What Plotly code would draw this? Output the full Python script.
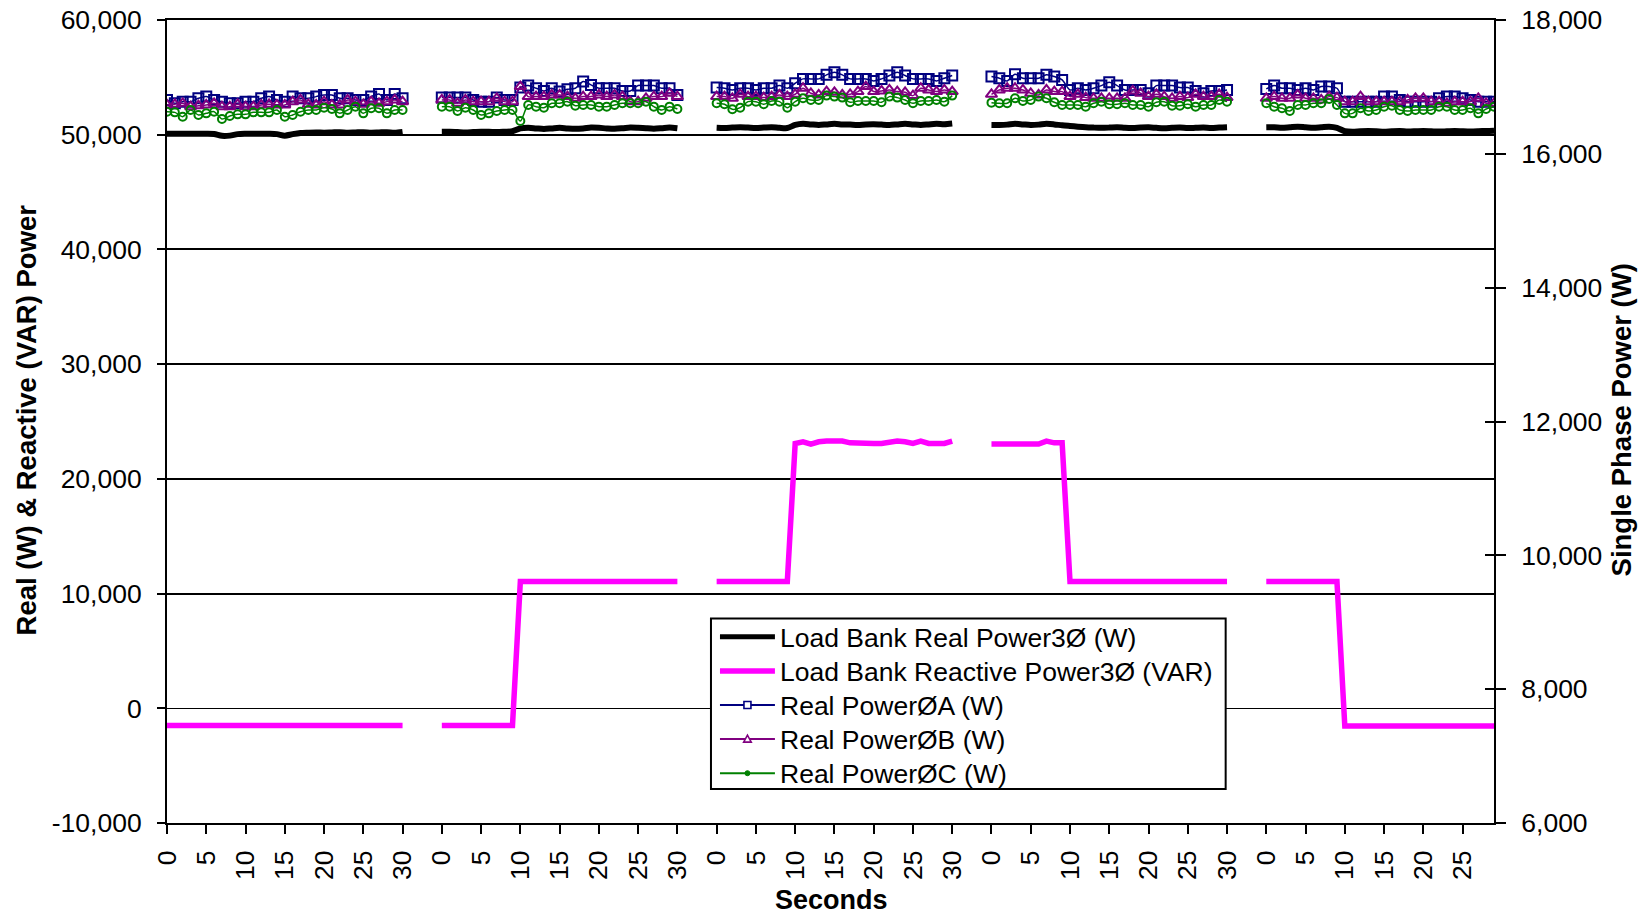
import plotly.graph_objects as go

# ---------------- data ----------------
run_tick_labels = [
    ["0", "5", "10", "15", "20", "25", "30"],
    ["0", "5", "10", "15", "20", "25", "30"],
    ["0", "5", "10", "15", "20", "25", "30"],
    ["0", "5", "10", "15", "20", "25", "30"],
    ["0", "5", "10", "15", "20", "25"],
]
left_tick_vals = [-10000, 0, 10000, 20000, 30000, 40000, 50000, 60000]
left_tick_text = ["-10,000", "0", "10,000", "20,000", "30,000", "40,000", "50,000", "60,000"]
right_tick_vals = [6000, 8000, 10000, 12000, 14000, 16000, 18000]
right_tick_text = ["6,000", "8,000", "10,000", "12,000", "14,000", "16,000", "18,000"]

series_names = [
    "Load Bank Real Power3Ø (W)",
    "Load Bank Reactive Power3Ø (VAR)",
    "Real PowerØA (W)",
    "Real PowerØB (W)",
    "Real PowerØC (W)",
]

# Load Bank Real Power 3-phase (W), left axis, one list per run
real3_runs = [
    [50080, 50080, 50080, 50080, 50080, 50080, 50060, 49900, 49920, 50050, 50080, 50080, 50080, 50080, 50050, 49920,
     50050, 50150, 50180, 50200, 50180, 50200, 50220, 50180, 50200, 50220, 50180, 50200, 50220, 50180, 50250],
    [50260, 50260, 50230, 50200, 50230, 50260, 50260, 50230, 50260, 50300, 50550, 50600, 50550, 50500, 50550, 50600,
     50550, 50520, 50550, 50620, 50600, 50550, 50520, 50560, 50620, 50600, 50560, 50530, 50570, 50620, 50560],
    [50600, 50580, 50620, 50660, 50620, 50580, 50620, 50660, 50600, 50580, 50850, 50950, 50900, 50850, 50900, 50950,
     50900, 50880, 50850, 50900, 50920, 50880, 50850, 50900, 50950, 50900, 50850, 50900, 50950, 50920, 50980],
    [50850, 50850, 50880, 50950, 50900, 50850, 50880, 50950, 50900, 50820, 50760, 50700, 50650, 50620, 50600, 50620,
     50650, 50600, 50580, 50620, 50640, 50600, 50570, 50600, 50620, 50580, 50600, 50620, 50580, 50620, 50650],
    [50650, 50650, 50600, 50650, 50700, 50650, 50600, 50650, 50700, 50600, 50300, 50250, 50300, 50330, 50300, 50250,
     50300, 50330, 50280, 50300, 50330, 50300, 50270, 50300, 50330, 50300, 50280, 50300, 50330, 50350],
]

# Load Bank Reactive Power 3-phase (VAR), left axis
reactive3_runs = [
    [-1500, -1500, -1500, -1500, -1500, -1500, -1500, -1500, -1500, -1500, -1500, -1500, -1500, -1500, -1500, -1500,
     -1500, -1500, -1500, -1500, -1500, -1500, -1500, -1500, -1500, -1500, -1500, -1500, -1500, -1500, -1500],
    [-1500, -1500, -1500, -1500, -1500, -1500, -1500, -1500, -1500, -1500, 11050, 11050, 11050, 11050, 11050, 11050,
     11050, 11050, 11050, 11050, 11050, 11050, 11050, 11050, 11050, 11050, 11050, 11050, 11050, 11050, 11050],
    [11050, 11050, 11050, 11050, 11050, 11050, 11050, 11050, 11050, 11050, 23085, 23230, 23030, 23230, 23290, 23290,
     23290, 23140, 23085, 23085, 23085, 23085, 23230, 23290, 23230, 23085, 23290, 23085, 23085, 23085, 23290],
    [23030, 23030, 23030, 23030, 23030, 23030, 23030, 23290, 23140, 23140, 11050, 11050, 11050, 11050, 11050, 11050,
     11050, 11050, 11050, 11050, 11050, 11050, 11050, 11050, 11050, 11050, 11050, 11050, 11050, 11050, 11050],
    [11050, 11050, 11050, 11050, 11050, 11050, 11050, 11050, 11050, 11050, -1550, -1550, -1550, -1550, -1550, -1550,
     -1550, -1550, -1550, -1550, -1550, -1550, -1550, -1550, -1550, -1550, -1550, -1550, -1550, -1550],
]

# Single phase real powers (W), right axis
phaseA_runs = [
    [16805, 16755, 16780, 16780, 16830, 16855, 16805, 16780, 16755, 16755, 16780, 16780, 16830, 16855, 16805, 16780,
     16855, 16830, 16830, 16855, 16880, 16880, 16830, 16830, 16805, 16805, 16855, 16895, 16805, 16895, 16830],
    [16840, 16840, 16840, 16840, 16805, 16780, 16780, 16840, 16805, 16805, 16990, 17020, 16980, 16940, 16980, 16930,
     16965, 16980, 17080, 17030, 16980, 16980, 16980, 16940, 16940, 17020, 17020, 17020, 16980, 16980, 16880],
    [16990, 16980, 16955, 16980, 16980, 16955, 16980, 16980, 17020, 16980, 17055, 17120, 17120, 17120, 17180, 17220,
     17180, 17120, 17120, 17120, 17090, 17120, 17170, 17220, 17170, 17120, 17120, 17120, 17090, 17130, 17170],
    [17155, 17130, 17090, 17190, 17130, 17130, 17130, 17180, 17155, 17105, 16955, 16980, 16955, 16980, 17020, 17070,
     17020, 16955, 16955, 16955, 16905, 17020, 17020, 17020, 16990, 16990, 16940, 16905, 16940, 16940, 16955],
    [16970, 17020, 16980, 16980, 16955, 16980, 16955, 17005, 17005, 16980, 16780, 16780, 16780, 16780, 16780, 16855,
     16855, 16805, 16780, 16780, 16780, 16780, 16830, 16855, 16855, 16830, 16805, 16780, 16780, 16780],
]
phaseB_runs = [
    [16730, 16740, 16755, 16705, 16720, 16730, 16755, 16705, 16705, 16740, 16705, 16705, 16730, 16740, 16730, 16730,
     16780, 16805, 16740, 16730, 16780, 16730, 16730, 16805, 16780, 16740, 16780, 16755, 16780, 16805, 16780],
    [16805, 16805, 16755, 16805, 16780, 16780, 16780, 16830, 16780, 16780, 17005, 16855, 16855, 16855, 16880, 16880,
     16855, 16830, 16855, 16855, 16880, 16855, 16880, 16855, 16780, 16780, 16830, 16855, 16855, 16905, 16855],
    [16855, 16855, 16830, 16890, 16855, 16855, 16840, 16855, 16880, 16855, 16890, 16980, 16905, 16880, 16930, 16920,
     16880, 16890, 16930, 17005, 16930, 16940, 16955, 16930, 16920, 16870, 16980, 16955, 16930, 16955, 16930],
    [16890, 16955, 16980, 16980, 16955, 16905, 16880, 16955, 16930, 16930, 16855, 16890, 16840, 16830, 16830, 16830,
     16830, 16830, 16940, 16905, 16855, 16890, 16855, 16830, 16855, 16840, 16890, 16855, 16855, 16890, 16840],
    [16830, 16855, 16830, 16830, 16880, 16830, 16830, 16805, 16855, 16840, 16780, 16780, 16855, 16780, 16780, 16780,
     16780, 16780, 16805, 16830, 16830, 16780, 16780, 16755, 16780, 16780, 16780, 16830, 16755, 16755],
]
phaseC_runs = [
    [16630, 16620, 16555, 16655, 16580, 16605, 16630, 16520, 16565, 16590, 16590, 16620, 16620, 16620, 16655, 16555,
     16580, 16630, 16655, 16655, 16690, 16670, 16605, 16655, 16705, 16605, 16680, 16680, 16605, 16655, 16655],
    [16705, 16705, 16640, 16690, 16655, 16580, 16605, 16640, 16655, 16655, 16490, 16730, 16705, 16690, 16755, 16755,
     16780, 16720, 16730, 16730, 16705, 16705, 16730, 16755, 16755, 16755, 16780, 16705, 16655, 16705, 16670],
    [16755, 16740, 16665, 16690, 16780, 16780, 16740, 16790, 16780, 16690, 16780, 16830, 16805, 16805, 16870, 16855,
     16840, 16770, 16790, 16790, 16790, 16770, 16855, 16840, 16805, 16755, 16790, 16790, 16805, 16780, 16870],
    [16765, 16755, 16755, 16830, 16790, 16805, 16855, 16830, 16770, 16730, 16730, 16730, 16705, 16755, 16780, 16740,
     16740, 16755, 16730, 16730, 16705, 16770, 16780, 16720, 16720, 16740, 16705, 16730, 16730, 16805, 16780],
    [16755, 16705, 16680, 16640, 16730, 16730, 16755, 16755, 16820, 16730, 16605, 16605, 16680, 16640, 16655, 16705,
     16720, 16655, 16640, 16655, 16655, 16655, 16705, 16705, 16655, 16655, 16680, 16605, 16670, 16705],
]

SECONDS_PER_RUN = 31   # 0..30 s
BLANK_CATS = 4         # empty categories between runs
RUN_STRIDE = SECONDS_PER_RUN + BLANK_CATS


def flatten(runs):
    xs, ys = [], []
    for r, run in enumerate(runs):
        for j, v in enumerate(run):
            xs.append(r * RUN_STRIDE + j)
            ys.append(v)
        xs.append(None)
        ys.append(None)
    return xs, ys


tickvals, ticktext = [], []
for r, labels in enumerate(run_tick_labels):
    for lab in labels:
        tickvals.append(r * RUN_STRIDE + int(lab))
        ticktext.append(lab)

# ---------------- styling ----------------
FONT = "Liberation Sans, Arial, sans-serif"
W, H = 1646, 917
PLOT_L, PLOT_R, PLOT_T, PLOT_B = 166.7, 1494.5, 20.0, 823.0

COL_REAL = "black"
COL_REACT = "#FF00FF"
COL_A = "#000080"
COL_B = "#800080"
COL_C = "#008000"


def px_x(px):
    return (px - PLOT_L) / (PLOT_R - PLOT_L)


def px_y(py):
    return (PLOT_B - py) / (PLOT_B - PLOT_T)


fig = go.Figure()

x, y = flatten(real3_runs)
fig.add_trace(go.Scatter(x=x, y=y, mode="lines", name=series_names[0], showlegend=False,
                         line=dict(color=COL_REAL, width=6, shape="spline", smoothing=0.8)))
x, y = flatten(reactive3_runs)
fig.add_trace(go.Scatter(x=x, y=y, mode="lines", name=series_names[1], showlegend=False,
                         line=dict(color=COL_REACT, width=5.5)))
x, y = flatten(phaseA_runs)
fig.add_trace(go.Scatter(x=x, y=y, mode="lines+markers", name=series_names[2], yaxis="y2", showlegend=False,
                         line=dict(color=COL_A, width=1.5, shape="spline", smoothing=0.8),
                         marker=dict(symbol="square-open", size=10, color=COL_A, line=dict(width=2))))
x, y = flatten(phaseB_runs)
fig.add_trace(go.Scatter(x=x, y=y, mode="lines+markers", name=series_names[3], yaxis="y2", showlegend=False,
                         line=dict(color=COL_B, width=1.5, shape="spline", smoothing=0.8),
                         marker=dict(symbol="triangle-up-open", size=10, color=COL_B, line=dict(width=2))))
x, y = flatten(phaseC_runs)
fig.add_trace(go.Scatter(x=x, y=y, mode="lines+markers", name=series_names[4], yaxis="y2", showlegend=False,
                         line=dict(color=COL_C, width=1.5, shape="spline", smoothing=0.8),
                         marker=dict(symbol="circle-open", size=8, color=COL_C, line=dict(width=2))))
# helper trace for the inner half of the crossing tick marks on the right axis
fig.add_trace(go.Scatter(x=[None], y=[None], yaxis="y3", showlegend=False, hoverinfo="skip"))

# ---------------- legend (box, samples, text) ----------------
shapes = []
annotations = []
LEG_L, LEG_R, LEG_T, LEG_B = 711.0, 1226.0, 618.5, 789.0
ROW0, ROW_STEP = 636.8, 34.1
SAMPLE_L, SAMPLE_R, TEXT_X = 720.0, 775.0, 778.0
shapes.append(dict(type="rect", xref="paper", yref="paper", layer="above",
                   x0=px_x(LEG_L), x1=px_x(LEG_R), y0=px_y(LEG_B), y1=px_y(LEG_T),
                   line=dict(color="black", width=2), fillcolor="white"))
sample_styles = [(COL_REAL, 5), (COL_REACT, 5.5), (COL_A, 2), (COL_B, 2), (COL_C, 2)]
for k, (name, (col, lw)) in enumerate(zip(series_names, sample_styles)):
    ry = ROW0 + k * ROW_STEP
    shapes.append(dict(type="line", xref="paper", yref="paper", layer="above",
                       x0=px_x(SAMPLE_L), x1=px_x(SAMPLE_R), y0=px_y(ry), y1=px_y(ry),
                       line=dict(color=col, width=lw)))
    annotations.append(dict(text=name, xref="paper", yref="paper", x=px_x(TEXT_X), y=px_y(ry + 1),
                            xanchor="left", yanchor="middle", showarrow=False,
                            font=dict(family=FONT, size=26.5, color="black")))
cx = (SAMPLE_L + SAMPLE_R) / 2
# square marker sample
ry = ROW0 + 2 * ROW_STEP
shapes.append(dict(type="rect", xref="paper", yref="paper", layer="above",
                   x0=px_x(cx - 3.5), x1=px_x(cx + 3.5), y0=px_y(ry + 3.5), y1=px_y(ry - 3.5),
                   line=dict(color=COL_A, width=1.6), fillcolor="white"))
# triangle marker sample
ry = ROW0 + 3 * ROW_STEP
tri = "M {a},{b} L {c},{b} L {d},{e} Z".format(a=px_x(cx - 3.8), c=px_x(cx + 3.8), b=px_y(ry + 3),
                                              d=px_x(cx), e=px_y(ry - 4))
shapes.append(dict(type="path", xref="paper", yref="paper", layer="above", path=tri,
                   line=dict(color=COL_B, width=1.6), fillcolor="white"))
# dot marker sample
ry = ROW0 + 4 * ROW_STEP
shapes.append(dict(type="circle", xref="paper", yref="paper", layer="above",
                   x0=px_x(cx - 2.5), x1=px_x(cx + 2.5), y0=px_y(ry + 2.5), y1=px_y(ry - 2.5),
                   line=dict(color=COL_C, width=1), fillcolor=COL_C))

# ---------------- axis titles ----------------
annotations += [
    dict(text="<b>Real (W) & Reactive (VAR) Power</b>", xref="paper", yref="paper",
         x=px_x(26), y=px_y(420), xanchor="center", yanchor="middle", textangle=-90, showarrow=False,
         font=dict(family=FONT, size=27.5, color="black")),
    dict(text="<b>Single Phase Power (W)</b>", xref="paper", yref="paper",
         x=px_x(1622), y=px_y(420), xanchor="center", yanchor="middle", textangle=-90, showarrow=False,
         font=dict(family=FONT, size=27.5, color="black")),
    dict(text="<b>Seconds</b>", xref="paper", yref="paper",
         x=px_x(831.5), y=px_y(900), xanchor="center", yanchor="middle", showarrow=False,
         font=dict(family=FONT, size=27, color="black")),
]

fig.update_layout(
    width=W, height=H,
    margin=dict(l=PLOT_L, r=W - PLOT_R, t=PLOT_T, b=H - PLOT_B, autoexpand=False),
    paper_bgcolor="white", plot_bgcolor="white",
    font=dict(family=FONT, size=26, color="black"),
    showlegend=False,
    xaxis=dict(range=[0, 169], tickmode="array", tickvals=tickvals, ticktext=ticktext, automargin=False,
               tickangle=-90, ticks="outside", ticklen=9, tickwidth=2, tickcolor="black",
               showline=True, mirror=True, linecolor="black", linewidth=2, showgrid=False, zeroline=False,
               tickfont=dict(family=FONT, size=26.5), ticklabelstandoff=6, ticklabeloverflow="allow"),
    yaxis=dict(range=[-10000, 60000], tickmode="array", tickvals=left_tick_vals, ticktext=left_tick_text,
               automargin=False, ticks="outside", ticklen=8, tickwidth=2, tickcolor="black",
               showline=True, linecolor="black", linewidth=2,
               showgrid=True, gridcolor="black", gridwidth=1.6,
               zeroline=True, zerolinecolor="black", zerolinewidth=1,
               tickfont=dict(family=FONT, size=26.5), ticklabelstandoff=10, ticklabeloverflow="allow"),
    yaxis2=dict(range=[6000, 18000], overlaying="y", side="right", anchor="x", automargin=False,
                tickmode="array", tickvals=right_tick_vals, ticktext=right_tick_text,
                ticks="outside", ticklen=10, tickwidth=2, tickcolor="black",
                showline=True, linecolor="black", linewidth=2, showgrid=False, zeroline=False,
                tickfont=dict(family=FONT, size=26.5), ticklabelstandoff=10, ticklabeloverflow="allow"),
    yaxis3=dict(range=[6000, 18000], overlaying="y", side="right", anchor="x", automargin=False,
                tickmode="array", tickvals=right_tick_vals, ticks="inside", ticklen=9, tickwidth=2,
                tickcolor="black", showticklabels=False, showline=False, showgrid=False, zeroline=False),
    shapes=shapes,
    annotations=annotations,
)

fig.write_html("out.html", config={"displayModeBar": False},
               post_script="document.body.style.margin='0px';")
